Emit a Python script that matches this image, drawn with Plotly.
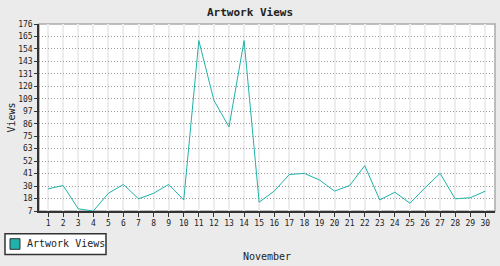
import plotly.graph_objects as go

days = list(range(1, 31))
views = [27, 30, 9, 7, 23, 31, 18, 23, 31, 17,
         161, 107, 83, 161, 15, 25, 40, 41, 35, 25,
         30, 48, 17, 24, 14, 28, 41, 18, 19, 25]
y_min, y_max = 7, 176
y_tick_labels = ["7", "18", "30", "41", "52", "63", "75", "86", "97",
                 "109", "120", "131", "143", "154", "165", "176"]
y_tick_vals = [y_min + k * (y_max - y_min) / 15 for k in range(16)]
series_name = "Artwork Views"

teal = "#20b2aa"
mono = "DejaVu Sans Mono"
txt = "#222222"

fig = go.Figure()
fig.add_trace(go.Scatter(x=days, y=views, mode="lines", name=series_name,
                         line=dict(color=teal, width=1),
                         showlegend=False, hoverinfo="skip"))

fig.update_layout(
    width=500, height=266,
    margin=dict(l=39, r=5, t=24, b=53),
    paper_bgcolor="#ebebeb", plot_bgcolor="white",
    title=dict(text="<b>Artwork Views</b>", x=0.5, xanchor="center",
               y=1 - 12 / 266, yanchor="middle",
               font=dict(family=mono, size=11, color=txt)),
    showlegend=False,
    font=dict(family=mono, size=8, color=txt),
)
# plot border (top/right grey)
fig.add_shape(type="rect", xref="paper", yref="paper", x0=0, y0=0, x1=1, y1=1,
              line=dict(color="#aaaaaa", width=1.5), layer="below")
# legend box
fig.add_shape(type="rect", xref="paper", yref="paper",
              x0=-0.0746, x1=0.1469, y0=-0.2328, y1=-0.1217,
              line=dict(color="#333333", width=1.5), fillcolor="white")
fig.add_shape(type="rect", xref="paper", yref="paper",
              x0=-0.0636, x1=-0.0417, y0=-0.2048, y1=-0.148,
              line=dict(color="#333333", width=1), fillcolor=teal)
fig.add_annotation(text=series_name, xref="paper", yref="paper",
                   x=-0.0307, y=-0.1746, xanchor="left", yanchor="middle",
                   showarrow=False, font=dict(family=mono, size=10, color=txt))

fig.update_xaxes(range=[0.4, 30.64], tickmode="array", tickvals=days,
                 ticktext=[str(d) for d in days],
                 showgrid=True, gridcolor="#ededed", gridwidth=2,
                 showline=True, linecolor="#333333", linewidth=1.5,
                 ticks="outside", ticklen=4, tickcolor="#333333",
                 zeroline=False,
                 title=dict(text="November", standoff=26,
                            font=dict(family=mono, size=10, color=txt)))
fig.update_yaxes(range=[y_min, y_max], tickmode="array", tickvals=y_tick_vals,
                 ticktext=y_tick_labels,
                 showgrid=True, gridcolor="#9a9a9a", gridwidth=1, griddash="1px,2px",
                 showline=True, linecolor="#333333", linewidth=1.5,
                 ticks="outside", ticklen=3, tickcolor="#333333",
                 zeroline=False,
                 title=dict(text="Views", standoff=1,
                            font=dict(family=mono, size=10, color=txt)))

fig.write_html("out.html")
